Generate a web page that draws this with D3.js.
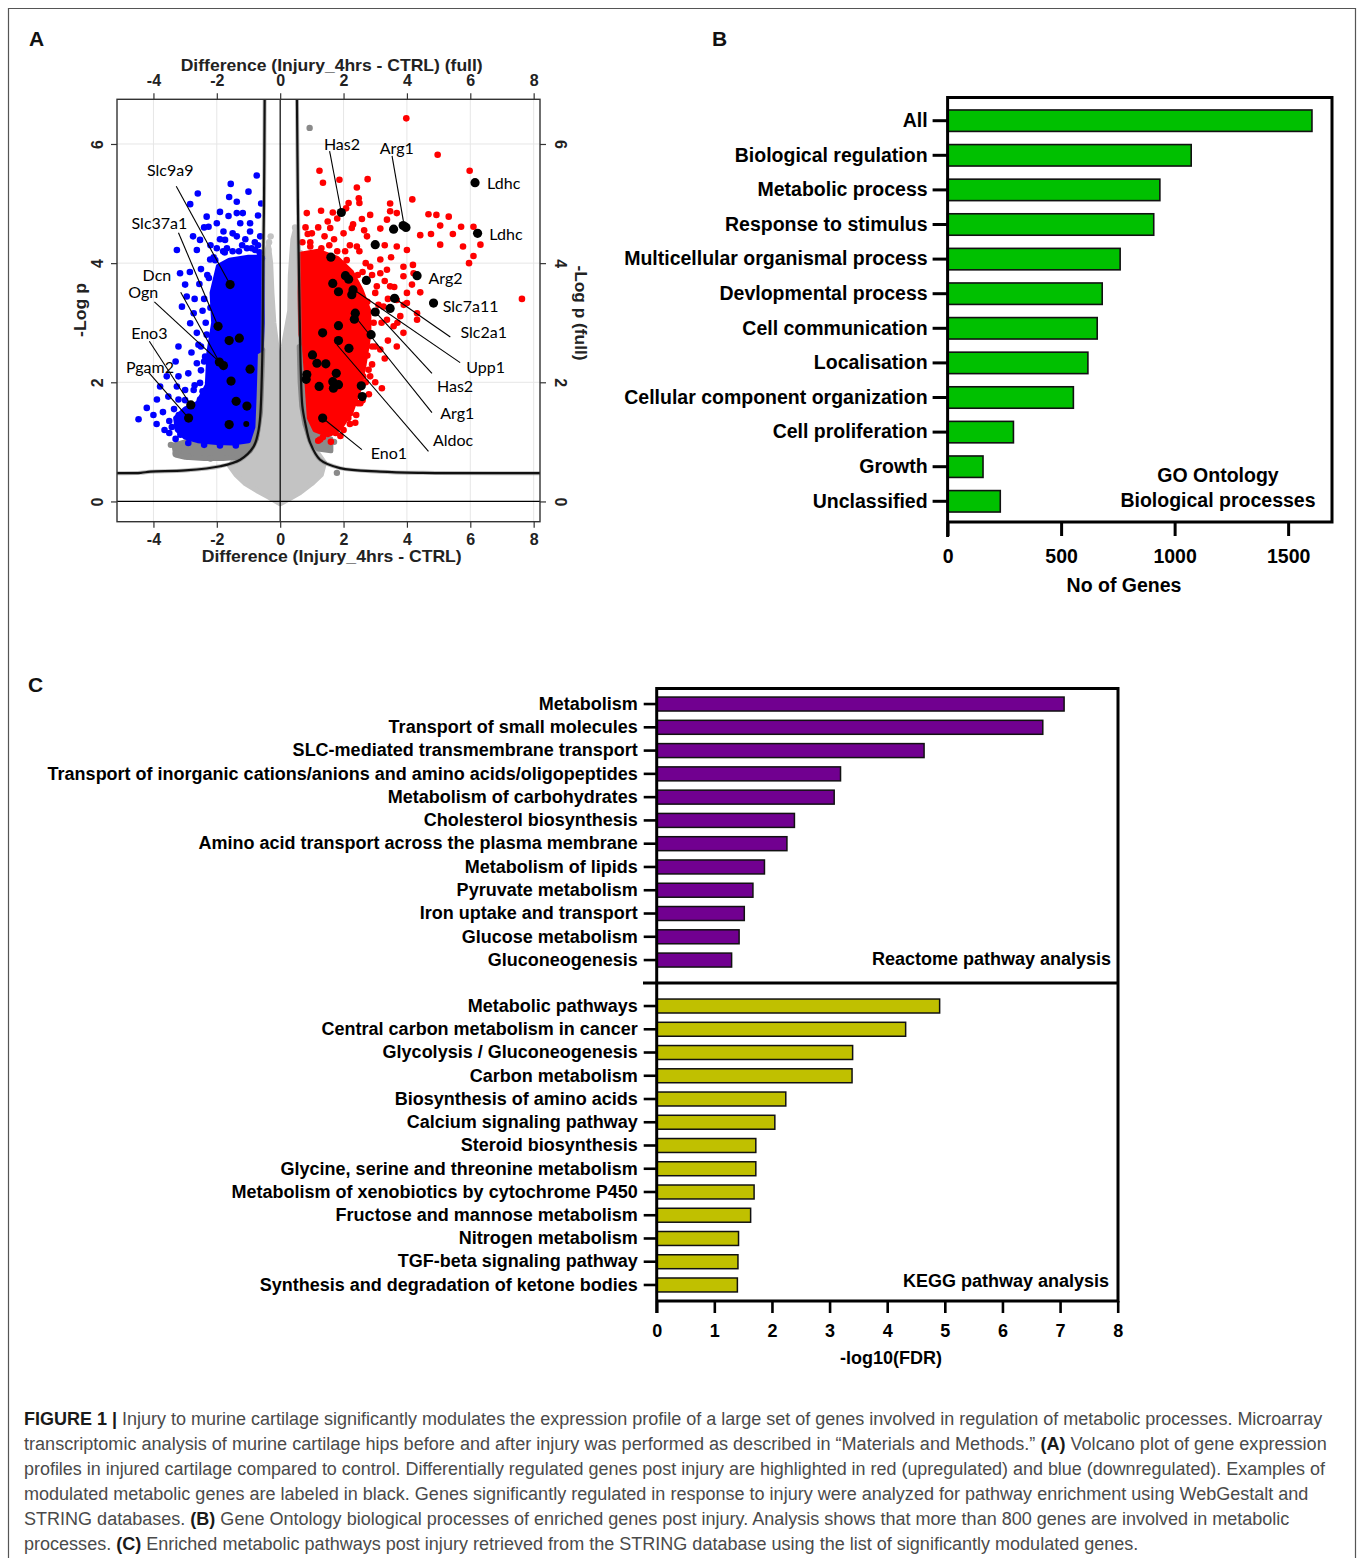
<!DOCTYPE html>
<html>
<head>
<meta charset="utf-8">
<script src="https://d3js.org/d3.v7.min.js"></script>
<style>
body { margin:0; background:#fff; }
svg text { font-family: "Liberation Sans", Arial, sans-serif; }
</style>
</head>
<body>
<div id="figure"></div>
<script>
// ---------- panel A : volcano ----------
var curveRight = [[0.53,6.75],[0.56,5],[0.58,4.22],[0.62,3],[0.65,2.2],[0.7,1.6],[0.79,1.32],[0.95,0.98],[1.26,0.70],[1.89,0.56],[3.16,0.5],[4.5,0.48],[8.2,0.475]];
var curveLeft = [[-0.49,6.75],[-0.51,5],[-0.53,4.22],[-0.55,3],[-0.57,2.3],[-0.63,1.43],[-0.7,1.15],[-0.84,0.92],[-1.26,0.70],[-1.89,0.59],[-3.0,0.52],[-4.1,0.5],[-4.4,0.48],[-5.15,0.475]];

var greyCloud = [[0,-0.04],[-0.35,0.07],[-0.7,0.17],[-1.1,0.3],[-1.4,0.45],[-1.6,0.6],[-1.4,0.72],[-1.0,0.85],[-0.75,1.05],[-0.62,1.5],[-0.56,2.2],[-0.54,3.0],[-0.52,3.6],[-0.45,4.1],[-0.37,4.3],[-0.3,4.0],[-0.26,3.5],[-0.2,3.0],[-0.08,2.5],[0.0,2.35],[0.1,2.6],[0.3,3.2],[0.32,3.8],[0.4,4.4],[0.47,4.55],[0.56,4.3],[0.58,3.5],[0.61,2.8],[0.63,2.2],[0.68,1.6],[0.78,1.3],[0.95,1.0],[1.2,0.8],[1.4,0.65],[1.3,0.45],[1.0,0.3],[0.63,0.15],[0.3,0.05]];
var darkCloudL = [[-3.3,0.78],[-3.0,0.74],[-2.4,0.72],[-1.8,0.72],[-1.3,0.74],[-0.95,0.85],[-0.75,1.05],[-0.62,1.5],[-0.57,2.2],[-0.55,2.55],[-0.68,2.5],[-0.8,2.0],[-0.85,1.3],[-1.2,1.0],[-2.0,0.98],[-3.0,1.0],[-3.35,0.95]];
var darkCloudR = [[0.6,2.6],[0.63,2.0],[0.68,1.6],[0.78,1.3],[0.95,1.02],[1.2,0.88],[1.6,0.85],[1.6,1.05],[1.3,1.1],[1.0,1.2],[0.85,1.5],[0.78,2.2],[0.72,2.6]];
var blueCloud = [[-0.57,4.1],[-0.56,3.0],[-0.6,2.55],[-0.78,2.5],[-0.82,1.8],[-0.86,1.25],[-1.0,1.02],[-1.5,0.98],[-2.0,0.99],[-2.6,1.02],[-3.0,1.08],[-3.25,1.2],[-3.3,1.4],[-3.0,1.55],[-2.6,1.65],[-2.3,1.95],[-2.25,2.5],[-2.1,3.0],[-2.15,3.5],[-1.95,3.95],[-1.6,4.05],[-1.0,4.1]];
var redCloud = [[0.64,4.15],[1.2,4.2],[1.8,4.08],[2.25,3.85],[2.55,3.55],[2.8,3.2],[2.8,2.8],[2.65,2.3],[2.5,1.9],[2.25,1.52],[1.9,1.24],[1.5,1.12],[1.1,1.2],[0.92,1.4],[0.82,2.2],[0.76,2.6],[0.65,2.8],[0.63,3.5]];

var greyPts = [[-0.37,4.23],[0.45,4.4],[0.5,4.0],[-0.42,3.9],[0.63,4.17],[-0.3,4.45],[0.47,4.6],[-0.35,4.35]];
var darkPts = [[0.93,6.27],[-3.21,0.87],[-3.3,0.8],[1.79,0.48],[1.7,1.0],[-3.45,0.95],[-2.9,0.75],[-2.2,0.72]];

var bluePts = [[-0.74,5.47],[-1.56,5.33],[-2.6,5.17],[-2.84,4.99],[-1.61,5.11],[-1.37,5.03],[-0.6,5.0],[-1.9,4.86],[-1.63,4.79],[-1.37,4.84],[-1.18,4.84],[-2.32,4.78],[-2.26,4.61],[-2.0,4.67],[-1.26,4.67],[-0.95,4.67],[-1.79,4.53],[-0.95,4.53],[-1.37,4.45],[-0.63,4.45],[-2.53,4.39],[-1.74,4.39],[-3.26,4.22],[-2.63,4.22],[-2.0,4.25],[-1.68,4.25],[-2.21,4.06],[-3.16,3.83],[-3.0,3.64],[-2.95,3.44],[-3.1,3.27],[-2.73,3.16],[-2.84,2.99],[-2.63,2.83],[-3.21,2.6],[-2.58,2.63],[-2.37,2.43],[-2.63,2.32],[-2.9,2.15],[-3.21,2.1],[-3.58,2.1],[-2.53,1.99],[-2.73,1.87],[-3.0,1.87],[-3.26,1.93],[-3.79,1.93],[-3.89,1.71],[-4.21,1.57],[-4.47,1.38],[-3.53,1.76],[-2.53,1.71],[-3.21,1.71],[-0.58,4.08],[-0.79,4.22],
  [-0.7,4.3],[-0.9,4.25],[-1.2,4.3],[-1.5,4.2],[-1.8,4.2],[-2.1,4.1],[-2.3,3.8],[-2.4,3.4],[-2.35,3.0],[-2.5,2.6],[-2.5,2.2],[-2.7,1.95],[-3.0,1.7],[-3.35,1.55],[-3.5,1.35],[-3.5,1.15],[-3.3,1.05],[-2.9,0.98],[-2.4,0.95],[-1.9,0.94],[-1.4,0.94],[-2.45,3.2],[-2.5,3.9],[-2.2,4.3],[-1.9,4.4],[-1.5,4.5],[-1.1,4.4],[-0.8,4.35],[-0.7,4.8],[-1.0,5.2],
  [-3.7,1.5],[-3.9,1.3],[-3.65,1.2],[-4.0,1.45],[-3.3,2.35],[-2.8,2.5],[-2.7,3.4],[-2.55,3.65],[-2.85,3.85],[-2.4,4.6],[-2.75,4.45],
  [-2.25,3.75],[-2.2,3.25],[-2.32,2.8],[-2.4,2.35],[-2.45,1.85],[-2.85,1.62],[-3.2,1.45],[-3.42,1.25],[-2.05,4.05],[-1.75,4.18],[-1.3,4.2],[-1.05,4.25],[-0.65,4.18],[-2.15,2.05],[-2.6,1.45],[-3.0,1.3],[-3.15,1.12]];

var redPts = [[3.98,6.43],[4.97,5.82],[5.98,5.55],[1.24,5.55],[1.35,5.35],[1.87,5.4],[2.76,5.41],[2.42,5.27],[2.48,5.09],[2.5,5.01],[2.16,5.01],[2.08,4.92],[4.17,5.07],[3.47,5.0],[0.84,4.84],[1.29,4.88],[1.66,4.85],[2.84,4.81],[3.47,4.87],[3.68,4.84],[4.68,4.82],[4.93,4.81],[5.32,4.78],[5.05,4.63],[5.71,4.61],[6.1,4.61],[0.87,4.49],[1.58,4.59],[2.26,4.59],[2.58,4.74],[3.37,4.73],[3.16,4.58],[4.42,4.47],[4.76,4.49],[5.45,4.49],[6.32,4.31],[5.05,4.31],[5.77,4.28],[6.1,4.12],[5.96,4.0],[4.19,3.97],[3.68,4.28],[4.0,4.22],[2.74,4.45],[2.42,4.28],[7.63,3.4],[4.42,3.51],[4.16,3.64],[3.89,3.78],[3.37,3.89],[3.16,4.06],[0.95,4.28],[4.0,3.33],[3.79,3.11],[4.32,3.16],[3.58,2.94],
  [3.21,1.9],[2.79,2.21],[3.16,2.55],[3.68,2.6],[3.89,2.83],[4.32,3.05],[2.21,1.48],[2.37,1.32],[2.0,1.2],[1.58,1.15],[1.26,1.04],[2.53,1.65],[2.84,2.1],
  [3.16,3.83],[3.47,3.61],[3.05,3.61],[3.68,3.38],[3.26,3.27],[4.0,3.5],[3.37,3.05],[2.84,3.94],[3.89,3.94],[4.21,3.83],
  [0.8,4.6],[1.0,4.5],[1.2,4.6],[1.4,4.45],[1.7,4.4],[2.0,4.5],[2.2,4.3],[2.5,4.2],[2.7,4.0],[2.9,3.8],[3.0,3.5],[3.1,3.3],[3.2,3.0],[3.0,2.6],[2.9,2.3],[2.7,2.0],[2.6,1.7],[2.4,1.45],[2.2,1.3],[1.9,1.1],[1.6,1.0],[1.2,1.02],[0.95,4.0],[1.5,4.7],[1.8,4.75],[2.3,4.65],[2.65,4.55],[3.3,4.3],[3.5,4.1],[3.3,3.7],[3.6,3.6],[3.4,3.4],[3.9,3.3],[3.7,3.0],[3.4,2.7],[3.3,2.4],[3.0,2.0],[2.8,1.8],
  [2.75,3.35],[2.95,3.0],[2.9,2.6],[2.75,2.45],[2.62,2.1],[2.45,1.65],[2.15,1.4],[1.75,1.15],[1.35,1.08],[2.45,3.8],[2.1,4.05],[1.55,4.3],[0.95,4.35],[0.7,4.35],[2.05,4.2],[2.6,3.85],[1.3,4.25],[1.8,4.2]];

var genePts = [[-1.58,3.64],[-1.96,2.94],[-1.61,2.70],[-1.29,2.74],[-1.92,2.34],[-1.79,2.28],[-0.95,2.22],[-1.55,2.02],[-1.39,1.68],[-1.05,1.60],[-1.61,1.29],[-2.82,1.62],[-2.89,1.40],
  [1.93,4.85],[3.97,4.60],[3.88,4.63],[3.58,4.57],[3.0,4.31],[1.6,4.1],[4.32,3.79],[4.84,3.33],[2.72,3.71],[2.06,3.79],[2.16,3.73],[1.66,3.66],[1.84,3.52],[2.3,3.55],[2.26,3.47],[3.61,3.41],[3.47,3.24],[3.0,3.18],[2.37,3.16],[2.34,3.06],[2.87,2.8],[1.34,2.83],[1.84,2.95],[1.84,2.7],[2.17,2.57],[1.02,2.46],[1.16,2.32],[1.44,2.31],[1.77,2.15],[0.84,2.13],[0.82,2.05],[1.23,1.93],[1.66,2.01],[1.84,1.96],[1.68,1.9],[2.56,1.94],[2.59,1.76],[1.34,1.4],[6.15,5.35],[6.23,4.5]];
var smallGenePts = [[-1.07,1.30]];

// label, text position [x,y], anchor, leader line from [x,y] to [x,y] (null = no line)
var geneLabels = [
  ["Slc9a9",[-3.47,5.55],"middle",[-3.28,5.29],[-1.58,3.64]],
  ["Slc37a1",[-3.81,4.67],"middle",[-3.21,4.51],[-1.96,2.94]],
  ["Dcn",[-3.89,3.80],"middle",[-3.14,3.51],[-1.92,2.34]],
  ["Ogn",[-4.32,3.51],"middle",[-3.97,3.35],[-1.79,2.28]],
  ["Eno3",[-4.13,2.82],"middle",[-4.13,2.69],[-2.82,1.62]],
  ["Pgam2",[-4.11,2.25],"middle",[-4.16,2.17],[-2.89,1.40]],
  ["Has2",[1.95,6.0],"middle",[1.56,5.88],[1.93,4.85]],
  ["Arg1",[3.68,5.92],"middle",[3.53,5.8],[3.89,4.7]],
  ["Ldhc",[6.53,5.34],"start",null,null],
  ["Ldhc",[6.60,4.48],"start",null,null],
  ["Arg2",[4.68,3.74],"start",null,null],
  ["Slc7a11",[5.13,3.28],"start",null,null],
  ["Slc2a1",[5.69,2.84],"start",[5.37,2.76],[3.61,3.41]],
  ["Upp1",[5.87,2.25],"start",[5.68,2.33],[2.2,3.6]],
  ["Has2",[4.95,1.93],"start",[4.79,2.15],[3.0,3.18]],
  ["Arg1",[5.05,1.48],"start",[4.79,1.49],[2.37,3.1]],
  ["Aldoc",[4.82,1.02],"start",[4.68,0.84],[1.79,2.63]],
  ["Eno1",[2.86,0.80],"start",[2.58,0.87],[1.34,1.4]]
];
var volcanoTicksX = [-4,-2,0,2,4,6,8];
var volcanoTicksY = [0,2,4,6];

// ---------- panel B : GO ----------
var goCats = ["All","Biological regulation","Metabolic process","Response to stimulus","Multicellular organismal process","Devlopmental process","Cell communication","Localisation","Cellular component organization","Cell proliferation","Growth","Unclassified"];
var goGenes = [1605,1073,935,908,760,681,659,618,554,290,156,232];
var goTicks = [0,500,1000,1500];

// ---------- panel C : pathways ----------
var reactomeCats = ["Metabolism","Transport of small molecules","SLC-mediated transmembrane transport","Transport of inorganic cations/anions and amino acids/oligopeptides","Metabolism of carbohydrates","Cholesterol biosynthesis","Amino acid transport across the plasma membrane","Metabolism of lipids","Pyruvate metabolism","Iron uptake and transport","Glucose metabolism","Gluconeogenesis"];
var reactomeFDR = [7.07,6.70,4.64,3.19,3.08,2.39,2.26,1.87,1.67,1.52,1.43,1.30];
var keggCats = ["Metabolic pathways","Central carbon metabolism in cancer","Glycolysis / Gluconeogenesis","Carbon metabolism","Biosynthesis of amino acids","Calcium signaling pathway","Steroid biosynthesis","Glycine, serine and threonine metabolism","Metabolism of xenobiotics by cytochrome P450","Fructose and mannose metabolism","Nitrogen metabolism","TGF-beta signaling pathway","Synthesis and degradation of ketone bodies"];
var keggFDR = [4.91,4.32,3.40,3.39,2.24,2.05,1.72,1.72,1.69,1.63,1.42,1.41,1.40];
var fdrTicks = [0,1,2,3,4,5,6,7,8];

var captionLines = [
  [["b","FIGURE 1 | "],["n","Injury to murine cartilage significantly modulates the expression profile of a large set of genes involved in regulation of metabolic processes. Microarray"]],
  [["n","transcriptomic analysis of murine cartilage hips before and after injury was performed as described in \u201cMaterials and Methods.\u201d "],["b","(A)"],["n"," Volcano plot of gene expression"]],
  [["n","profiles in injured cartilage compared to control. Differentially regulated genes post injury are highlighted in red (upregulated) and blue (downregulated). Examples of"]],
  [["n","modulated metabolic genes are labeled in black. Genes significantly regulated in response to injury were analyzed for pathway enrichment using WebGestalt and"]],
  [["n","STRING databases. "],["b","(B)"],["n"," Gene Ontology biological processes of enriched genes post injury. Analysis shows that more than 800 genes are involved in metabolic"]],
  [["n","processes. "],["b","(C)"],["n"," Enriched metabolic pathways post injury retrieved from the STRING database using the list of significantly modulated genes."]]
];
var captionEnds = [1323,1328,1325,1309,1290,1139];

var W = 1360, H = 1558;
var svg = d3.select("#figure").append("svg").attr("width", W).attr("height", H);
svg.append("rect").attr("width", W).attr("height", H).attr("fill", "#fff");

// figure border
svg.append("path").attr("d", "M8.5,1558 V8.5 H1355.5 V1558")
  .attr("fill","none").attr("stroke","#555").attr("stroke-width",1.2);

// panel letters
[["A",29,46],["B",712,46],["C",28,692]].forEach(function(p){
  svg.append("text").text(p[0]).attr("x",p[1]).attr("y",p[2])
    .attr("font-size","21px").attr("font-weight","bold").attr("fill","#111");
});

// =============== A ===============
var xV = d3.scaleLinear().domain([-5.15, 8.2]).range([117, 540]);
var yV = d3.scaleLinear().domain([-0.34, 6.75]).range([521.7, 99.3]);

var gA = svg.append("g");
gA.append("defs").append("clipPath").attr("id","vclip")
  .append("rect").attr("x",117).attr("y",99.3).attr("width",423).attr("height",422.4);

var plot = gA.append("g").attr("clip-path","url(#vclip)");

// grid
plot.selectAll("line.gx").data(volcanoTicksX.filter(function(d){return d!=0;})).enter()
  .append("line").attr("class","gx")
  .attr("x1",function(d){return xV(d);}).attr("x2",function(d){return xV(d);})
  .attr("y1",99).attr("y2",522).attr("stroke","#e6e6e6").attr("stroke-width",1);
plot.selectAll("line.gy").data(volcanoTicksY.filter(function(d){return d!=0;})).enter()
  .append("line").attr("class","gy")
  .attr("y1",function(d){return yV(d);}).attr("y2",function(d){return yV(d);})
  .attr("x1",117).attr("x2",540).attr("stroke","#e6e6e6").attr("stroke-width",1);

var poly = d3.line().x(function(d){return xV(d[0]);}).y(function(d){return yV(d[1]);}).curve(d3.curveLinearClosed);
function cloud(data, col) {
  plot.append("path").datum(data).attr("d", poly)
    .attr("fill", col).attr("stroke", col).attr("stroke-width", 5).attr("stroke-linejoin","round");
}
function dots(data, col, r) {
  plot.append("g").selectAll("circle").data(data).enter().append("circle")
    .attr("cx",function(d){return xV(d[0]);}).attr("cy",function(d){return yV(d[1]);})
    .attr("r", r).attr("fill", col);
}

cloud(greyCloud, "#c3c3c3");
dots(greyPts, "#c3c3c3", 3.2);
cloud(darkCloudL, "#8a8a8a");
cloud(darkCloudR, "#8a8a8a");
dots(darkPts, "#8a8a8a", 3.2);
cloud(blueCloud, "#0000ff");
dots(bluePts, "#0000ff", 3.3);
cloud(redCloud, "#ff0000");
dots(redPts, "#ff0000", 3.3);

// zero lines
plot.append("line").attr("x1",xV(0)).attr("x2",xV(0)).attr("y1",99).attr("y2",522).attr("stroke","#000").attr("stroke-width",1.2);
plot.append("line").attr("y1",yV(0)).attr("y2",yV(0)).attr("x1",117).attr("x2",540).attr("stroke","#000").attr("stroke-width",1.2);

// threshold curves
var curveLine = d3.line().x(function(d){return xV(d[0]);}).y(function(d){return yV(d[1]);}).curve(d3.curveCatmullRom);
[curveRight, curveLeft].forEach(function(c){
  plot.append("path").datum(c).attr("d", curveLine)
    .attr("fill","none").attr("stroke","#777").attr("stroke-width",4).attr("stroke-opacity",0.5);
  plot.append("path").datum(c).attr("d", curveLine)
    .attr("fill","none").attr("stroke","#111").attr("stroke-width",2.2);
});

// leader lines
plot.selectAll("line.lead").data(geneLabels.filter(function(d){return d[3];})).enter()
  .append("line").attr("class","lead")
  .attr("x1",function(d){return xV(d[3][0]);}).attr("y1",function(d){return yV(d[3][1]);})
  .attr("x2",function(d){return xV(d[4][0]);}).attr("y2",function(d){return yV(d[4][1]);})
  .attr("stroke","#000").attr("stroke-width",1.1);

dots(genePts, "#000", 4.6);
dots(smallGenePts, "#000", 3);

plot.selectAll("text.gene").data(geneLabels).enter().append("text").attr("class","gene")
  .attr("x",function(d){return xV(d[1][0]);}).attr("y",function(d){return yV(d[1][1]);})
  .attr("dy","0.35em").attr("text-anchor",function(d){return d[2];})
  .style("font-family","Lato, 'Liberation Sans', sans-serif").attr("font-size","16px").attr("fill","#000")
  .text(function(d){return d[0];});

// box
gA.append("rect").attr("x",117).attr("y",99.3).attr("width",423).attr("height",422.4)
  .attr("fill","none").attr("stroke","#333").attr("stroke-width",1.4);

function styleAxis(g) {
  g.select(".domain").remove();
  g.selectAll(".tick line").attr("stroke","#333").attr("stroke-width",1.2);
  g.selectAll(".tick text").attr("font-size","16px").attr("font-weight","bold").attr("fill","#222")
    .style("font-family","'Liberation Sans', Arial, sans-serif");
}
var fmt = function(d){ return String(d); };
gA.append("g").attr("transform","translate(0,99.3)")
  .call(d3.axisTop(xV).tickValues(volcanoTicksX).tickFormat(fmt).tickSize(6).tickPadding(7)).call(styleAxis);
gA.append("g").attr("transform","translate(0,521.7)")
  .call(d3.axisBottom(xV).tickValues(volcanoTicksX).tickFormat(fmt).tickSize(6).tickPadding(6)).call(styleAxis);
var yl = gA.append("g").attr("transform","translate(117,0)")
  .call(d3.axisLeft(yV).tickValues(volcanoTicksY).tickFormat(fmt).tickSize(6)).call(styleAxis);
yl.selectAll(".tick text").attr("x",null).attr("dy",null).attr("text-anchor","middle")
  .attr("transform","translate(-20,0) rotate(-90)").attr("dominant-baseline","central");
var yr = gA.append("g").attr("transform","translate(540,0)")
  .call(d3.axisRight(yV).tickValues(volcanoTicksY).tickFormat(fmt).tickSize(6)).call(styleAxis);
yr.selectAll(".tick text").attr("x",null).attr("dy",null).attr("text-anchor","middle")
  .attr("transform","translate(20,0) rotate(90)").attr("dominant-baseline","central");

function title(g, txt, x, y, len, rot) {
  var t = g.append("text").text(txt).attr("text-anchor","middle")
    .attr("font-size","17px").attr("font-weight","bold").attr("fill","#222")
    .attr("textLength", len).attr("lengthAdjust","spacingAndGlyphs")
    .attr("dominant-baseline","central");
  t.attr("transform","translate("+x+","+y+")"+(rot?" rotate("+rot+")":""));
  return t;
}
title(gA, "Difference (Injury_4hrs - CTRL) (full)", 331.7, 65, 302, 0);
title(gA, "Difference (Injury_4hrs - CTRL)", 331.7, 556, 260, 0);
title(gA, "-Log p", 80, 310, 54, -90);
title(gA, "-Log p (full)", 580, 313, 95, 90);

// =============== B ===============
var gB = svg.append("g");
var xB = d3.scaleLinear().domain([0, 1695]).range([947.6, 1332.4]);
var yB = d3.scaleBand().domain(goCats).range([103.4, 518.6]);
var bwB = yB.bandwidth();

gB.selectAll("rect.bar").data(goCats).enter().append("rect").attr("class","bar")
  .attr("x", xB(0)).attr("y", function(d){return yB(d)+bwB*0.19;})
  .attr("width", function(d,i){return xB(goGenes[i])-xB(0);})
  .attr("height", bwB*0.62)
  .attr("fill","#00c000").attr("stroke","#111").attr("stroke-width",1.6);

gB.append("path").attr("d","M"+xB(0)+",97.5 H1332 V522 H"+xB(0))
  .attr("fill","none").attr("stroke","#000").attr("stroke-width",3);
gB.append("line").attr("x1",xB(0)).attr("x2",xB(0)).attr("y1",96).attr("y2",537)
  .attr("stroke","#000").attr("stroke-width",3);

var axB = gB.append("g").attr("transform","translate("+xB(0)+",0)")
  .call(d3.axisLeft(yB).tickSize(15).tickPadding(5));
axB.select(".domain").remove();
axB.selectAll(".tick line").attr("stroke","#000").attr("stroke-width",3);
axB.selectAll(".tick text").attr("font-size","19.5px").attr("font-weight","bold").attr("fill","#000");

var axBx = gB.append("g").attr("transform","translate(0,522)")
  .call(d3.axisBottom(xB).tickValues(goTicks).tickFormat(d3.format("d")).tickSize(14).tickPadding(13));
axBx.select(".domain").remove();
axBx.selectAll(".tick line").attr("stroke","#000").attr("stroke-width",3);
axBx.selectAll(".tick text").attr("font-size","19.5px").attr("font-weight","bold").attr("fill","#000");

gB.append("text").text("No of Genes").attr("x",1124).attr("y",592).attr("text-anchor","middle")
  .attr("font-size","19.5px").attr("font-weight","bold");
gB.append("text").text("GO Ontology").attr("x",1218).attr("y",482).attr("text-anchor","middle")
  .attr("font-size","19.5px").attr("font-weight","bold");
gB.append("text").text("Biological processes").attr("x",1218).attr("y",507).attr("text-anchor","middle")
  .attr("font-size","19.5px").attr("font-weight","bold");

// =============== C ===============
var gC = svg.append("g");
var xC = d3.scaleLinear().domain([0, 8]).range([656.7, 1117.7]);
var yR = d3.scaleBand().domain(reactomeCats).range([692.4, 971.7]);
var yK = d3.scaleBand().domain(keggCats).range([994.4, 1296.6]);

function barsC(cats, vals, yS, col) {
  var bw = yS.bandwidth();
  gC.append("g").selectAll("rect").data(cats).enter().append("rect")
    .attr("x", xC(0)).attr("y", function(d){return yS(d)+bw*0.2;})
    .attr("width", function(d,i){return xC(vals[i])-xC(0);})
    .attr("height", bw*0.6)
    .attr("fill", col).attr("stroke","#111").attr("stroke-width",1.5);
  var ax = gC.append("g").attr("transform","translate("+xC(0)+",0)")
    .call(d3.axisLeft(yS).tickSize(13).tickPadding(6));
  ax.select(".domain").remove();
  ax.selectAll(".tick line").attr("stroke","#000").attr("stroke-width",2.6);
  ax.selectAll(".tick text").attr("font-size","18px").attr("font-weight","bold").attr("fill","#000");
}
barsC(reactomeCats, reactomeFDR, yR, "#710090");
barsC(keggCats, keggFDR, yK, "#c0c000");

gC.append("path").attr("d","M"+xC(0)+",688.5 H1118 V1301 H"+xC(0))
  .attr("fill","none").attr("stroke","#000").attr("stroke-width",3);
gC.append("line").attr("x1",643).attr("x2",1118).attr("y1",983).attr("y2",983)
  .attr("stroke","#000").attr("stroke-width",3);
gC.append("line").attr("x1",xC(0)).attr("x2",xC(0)).attr("y1",687).attr("y2",1313)
  .attr("stroke","#000").attr("stroke-width",3);

var axCx = gC.append("g").attr("transform","translate(0,1301)")
  .call(d3.axisBottom(xC).tickValues(fdrTicks).tickSize(12).tickPadding(11));
axCx.select(".domain").remove();
axCx.selectAll(".tick line").attr("stroke","#000").attr("stroke-width",2.6);
axCx.selectAll(".tick text").attr("font-size","18px").attr("font-weight","bold").attr("fill","#000");

gC.append("text").text("-log10(FDR)").attr("x",891).attr("y",1364).attr("text-anchor","middle")
  .attr("font-size","18px").attr("font-weight","bold");
gC.append("text").text("Reactome pathway analysis").attr("x",1111).attr("y",965).attr("text-anchor","end")
  .attr("font-size","18px").attr("font-weight","bold");
gC.append("text").text("KEGG pathway analysis").attr("x",1109).attr("y",1287).attr("text-anchor","end")
  .attr("font-size","18px").attr("font-weight","bold");

// =============== caption ===============
var capY = 1424.5;
captionLines.forEach(function(line, i){
  var t = svg.append("text").attr("x",0).attr("y",0)
    .style("font-family","'Liberation Sans Narrow', 'Arial Narrow', 'Liberation Sans', sans-serif")
    .attr("font-size","19px");
  line.forEach(function(seg){
    t.append("tspan").text(seg[1])
      .attr("font-weight", seg[0]=="b" ? "bold" : "normal")
      .attr("fill", seg[0]=="b" ? "#1a1a1a" : "#4a4a4a");
  });
  var w = t.node().getComputedTextLength();
  var target = captionEnds[i] - 24;
  t.attr("transform","translate(24,"+(capY + i*25.1)+") scale("+(target/w)+",1)");
});
</script>
</body>
</html>
